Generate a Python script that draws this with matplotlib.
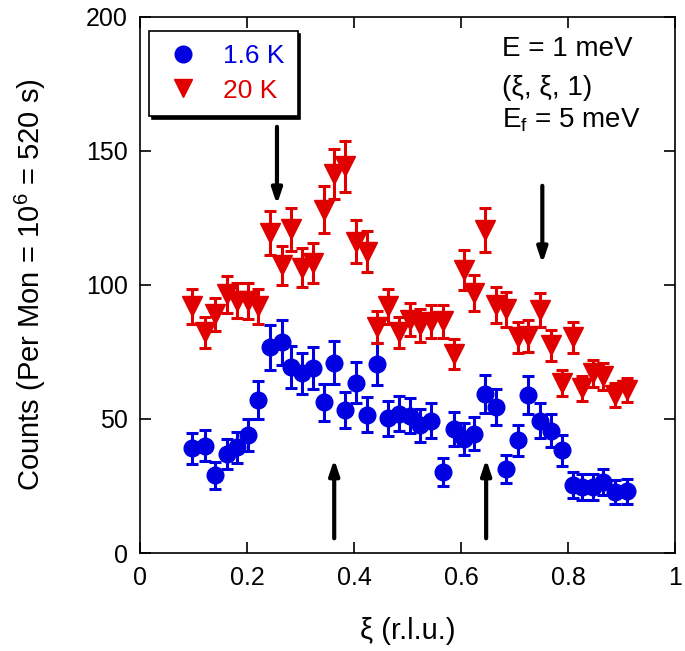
import matplotlib
matplotlib.use("Agg")
import matplotlib.pyplot as plt
from matplotlib.lines import Line2D

plt.rcParams['font.family'] = ['Liberation Sans', 'DejaVu Sans']
plt.rcParams['mathtext.fontset'] = 'custom'
plt.rcParams['mathtext.rm'] = 'Liberation Sans'
plt.rcParams['mathtext.it'] = 'Liberation Sans'

# --- data ---
xi = [0.097, 0.121, 0.140, 0.162, 0.181, 0.202, 0.221, 0.243, 0.265, 0.283,
      0.302, 0.323, 0.343, 0.363, 0.383, 0.404, 0.424, 0.443, 0.464, 0.485,
      0.505, 0.523, 0.544, 0.567, 0.587, 0.606, 0.625, 0.645, 0.665, 0.685,
      0.707, 0.726, 0.748, 0.769, 0.788, 0.809, 0.826, 0.846, 0.866, 0.888,
      0.910]

counts_1p6K = [39, 40, 29, 37, 39.5, 44, 57, 76.7, 78.6, 69.3,
               67, 69, 56.3, 71, 53.2, 63.6, 51.6, 70.5, 50.3, 52,
               51.3, 47.6, 49.4, 30.2, 46.3, 42.6, 44.5, 59.4, 54.4, 31.5,
               42, 59.1, 49.4, 45.7, 38.3, 25.3, 24.6, 24.6, 26.5, 22.8,
               23]
err_1p6K = [5.7, 5.8, 5.0, 5.6, 5.8, 6.0, 7.0, 8.4, 8.5, 7.9,
            7.7, 7.8, 6.9, 8.0, 6.7, 7.5, 6.6, 7.9, 6.5, 6.6,
            6.6, 6.3, 6.5, 5.1, 6.2, 6.0, 6.1, 7.2, 6.8, 5.2,
            5.9, 7.1, 6.5, 6.2, 5.7, 4.8, 4.7, 4.7, 4.9, 4.6,
            4.6]

counts_20K = [92, 82.3, 89, 96.5, 94.2, 94, 92, 119.5, 107.3, 120.7,
              106.5, 108.2, 128.1, 141.4, 144.2, 116.1, 112.4, 84.4, 92, 82.3,
              87, 85, 86.3, 86.5, 74.2, 105.6, 97.1, 120.4, 92.5, 91,
              80.5, 81, 90.6, 77.5, 63.5, 80.5, 61.5, 67, 66, 58.8,
              60.8]
err_20K = [6.5, 5.9, 6.3, 6.8, 6.7, 6.6, 6.5, 8.2, 7.4, 8.2,
           7.4, 7.5, 8.7, 9.5, 9.6, 8.0, 7.7, 6.0, 6.5, 5.9,
           6.2, 6.1, 6.2, 6.2, 5.5, 7.3, 6.8, 8.2, 6.6, 6.5,
           5.8, 5.9, 6.4, 5.7, 4.8, 5.8, 4.7, 5.0, 5.0, 4.5,
           4.6]

labels = ['1.6 K', '20 K']

# arrows: (x, y_start, y_end)
arrows_down = [(0.256, 159, 130), (0.752, 137, 108)]
arrows_up = [(0.363, 5.5, 35), (0.647, 5.5, 35)]

blue = '#0000e0'
red = '#e00000'

fig = plt.figure(figsize=(6.85, 6.51), dpi=100)
ax = fig.add_axes([0.2044, 0.1505, 0.781, 0.8235])

ax.errorbar(xi, counts_1p6K, yerr=err_1p6K, fmt='o', color=blue, ms=12,
            elinewidth=2.2, capsize=4, capthick=2.2, zorder=3)
ax.errorbar(xi, counts_20K, yerr=err_20K, fmt='v', color=red, ms=14,
            elinewidth=2.2, capsize=4, capthick=2.2, zorder=4)

for (x, y0, y1) in arrows_down + arrows_up:
    ax.annotate('', xy=(x, y1), xytext=(x, y0),
                arrowprops=dict(arrowstyle='-|>,head_length=0.9,head_width=0.3',
                                lw=3, color='black', shrinkA=0, shrinkB=0),
                zorder=5)

ax.set_xlim(0, 1)
ax.set_ylim(0, 200)
ax.set_xticks([0, 0.2, 0.4, 0.6, 0.8, 1.0])
ax.set_xticklabels(['0', '0.2', '0.4', '0.6', '0.8', '1'])
ax.set_yticks([0, 50, 100, 150, 200])
ax.tick_params(direction='in', length=8, width=1.2, top=True, right=True,
               labelsize=18, pad=9)
for s in ax.spines.values():
    s.set_linewidth(1.2)

ax.set_xlabel('ξ (r.l.u.)', fontsize=21, labelpad=20)
ax.set_ylabel('Counts (Per Mon = 10$^6$ = 520 s)', fontsize=21, labelpad=27)

handles = [Line2D([], [], marker='o', ls='', color=blue, ms=12),
           Line2D([], [], marker='v', ls='', color=red, ms=13)]
leg = ax.legend(handles, labels, loc='upper left', bbox_to_anchor=(0.017, 0.974),
                borderaxespad=0, fancybox=False, edgecolor='black', framealpha=1,
                shadow={'color': 'black', 'alpha': 1}, fontsize=19,
                handletextpad=0.7, borderpad=0.5, labelspacing=0.4,
                handlelength=1.6)
leg.get_frame().set_linewidth(1.2)
leg.get_texts()[0].set_color(blue)
leg.get_texts()[1].set_color(red)

ax.text(0.676, 188, 'E = 1 meV', fontsize=20, va='center', ha='left')
ax.text(0.676, 173.5, '(ξ, ξ, 1)', fontsize=20, va='center', ha='left')
ax.text(0.676, 161.5, 'E$_\\mathrm{f}$ = 5 meV', fontsize=20, va='center', ha='left')

fig.savefig('out.png', dpi=100)
